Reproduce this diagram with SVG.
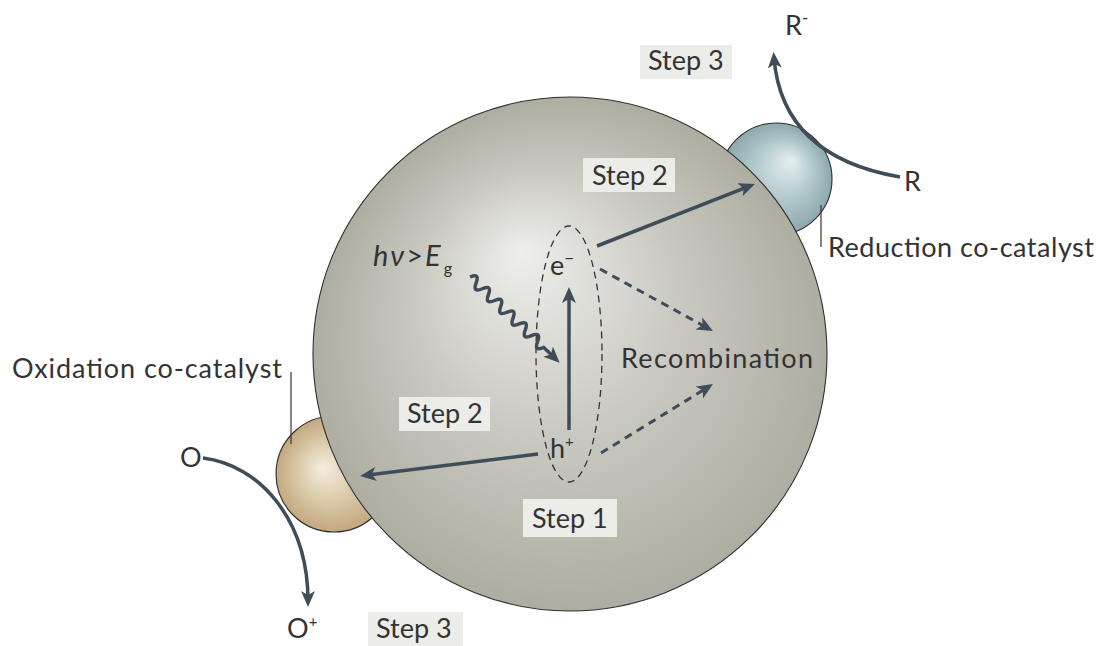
<svg xmlns="http://www.w3.org/2000/svg" width="1108" height="646" viewBox="0 0 1108 646">
  <defs>
    <radialGradient id="gMain" gradientUnits="userSpaceOnUse" cx="570" cy="354" r="257" fx="520" fy="250">
      <stop offset="0" stop-color="#eeeeeb"/>
      <stop offset="0.5" stop-color="#cbcac2"/>
      <stop offset="1" stop-color="#aeada1"/>
    </radialGradient>
    <radialGradient id="gRed" gradientUnits="userSpaceOnUse" cx="776" cy="179" r="56" fx="792" fy="160">
      <stop offset="0" stop-color="#e6eff0"/>
      <stop offset="0.5" stop-color="#b4cacd"/>
      <stop offset="1" stop-color="#8ca9ae"/>
    </radialGradient>
    <radialGradient id="gOx" gradientUnits="userSpaceOnUse" cx="334" cy="474" r="58" fx="322" fy="468">
      <stop offset="0" stop-color="#f4eee0"/>
      <stop offset="0.5" stop-color="#dccbab"/>
      <stop offset="1" stop-color="#c2a87f"/>
    </radialGradient>
    <marker id="head" markerUnits="userSpaceOnUse" markerWidth="18" markerHeight="16" refX="10" refY="7" orient="auto">
      <path d="M0,0 L16,7 L0,14 L4,7 z" fill="#3e4d58"/>
    </marker>
    <style>
      .sphere { stroke: #2e2e2e; stroke-width: 1.1; }
      .lbl { font-family: Lato, "Open Sans", sans-serif; font-size: 27px; fill: #333333; }
      .box { fill: #ecece8; }
      .arrow { fill: none; stroke: #3e4d58; stroke-width: 3.5; marker-end: url(#head); }
      .dash { fill: none; stroke: #3e4d58; stroke-width: 3; stroke-dasharray: 8 6; marker-end: url(#head); }
      .lead { stroke: #333333; stroke-width: 1.2; }
    </style>
  </defs>

  <rect width="1108" height="646" fill="#ffffff"/>

  <!-- co-catalyst particles sit behind the semiconductor -->
  <g id="reduction-cocatalyst">
    <circle class="sphere" cx="776" cy="179" r="56" fill="url(#gRed)"/>
  </g>
  <g id="oxidation-cocatalyst">
    <circle class="sphere" cx="334" cy="474" r="58" fill="url(#gOx)"/>
  </g>

  <g id="semiconductor">
    <circle class="sphere" cx="570" cy="354" r="257" fill="url(#gMain)"/>
  </g>

  <!-- electron-hole pair -->
  <g id="pair">
    <ellipse cx="569" cy="354" rx="33" ry="128" fill="none" stroke="#333333" stroke-width="1.3" stroke-dasharray="7 5"/>
    <text class="lbl" x="550" y="275">e<tspan font-size="17" dy="-11">−</tspan></text>
    <text class="lbl" x="550" y="458">h<tspan font-size="15" dy="-11">+</tspan></text>
  </g>

  <g id="photon-label">
    <text class="lbl" x="373" y="266" style="font-size:29px; letter-spacing:2px"><tspan font-style="italic">hν</tspan>&gt;<tspan font-style="italic">E</tspan><tspan font-size="16" dx="1" dy="8">g</tspan></text>
  </g>

  <g id="recombination">
    <text class="lbl" x="621" y="368" textLength="192" lengthAdjust="spacing">Recombination</text>
  </g>

  <g id="step-labels">
    <rect class="box" x="583" y="158" width="92" height="34"/>
    <text class="lbl" x="592" y="185">Step 2</text>
    <rect class="box" x="399" y="397" width="91" height="34"/>
    <text class="lbl" x="407" y="423">Step 2</text>
    <rect class="box" x="523" y="499" width="94" height="38"/>
    <text class="lbl" x="532" y="528">Step 1</text>
    <rect class="box" x="640" y="45" width="92" height="34"/>
    <text class="lbl" x="648" y="70">Step 3</text>
    <rect class="box" x="368" y="612" width="95" height="34"/>
    <text class="lbl" x="376" y="638">Step 3</text>
  </g>

  <g id="reduction-label">
    <line class="lead" x1="821" y1="205" x2="821" y2="247"/>
    <text class="lbl" x="828" y="257" textLength="266" lengthAdjust="spacing">Reduction co-catalyst</text>
  </g>
  <g id="oxidation-label">
    <line class="lead" x1="291" y1="372" x2="291" y2="444"/>
    <text class="lbl" x="12" y="378" textLength="270" lengthAdjust="spacing">Oxidation co-catalyst</text>
  </g>

  <g id="species">
    <text class="lbl" x="904" y="191">R</text>
    <text class="lbl" x="785" y="35">R<tspan font-size="17" dy="-11">-</tspan></text>
    <text class="lbl" x="180" y="467">O</text>
    <text class="lbl" x="287" y="638">O<tspan font-size="15" dy="-11">+</tspan></text>
  </g>

  <g id="connectors">
    <!-- photon -->
    <path class="arrow" stroke-width="2.6" transform="translate(470,277) rotate(43.7)" d="M0,0 q4.25,-10 8.5,0 t8.5,0 t8.5,0 t8.5,0 t8.5,0 t8.5,0 t8.5,0 t8.5,0 t8.5,0 t8.5,0 t8.5,0 t8.5,0 L118,0"/>
    <!-- excitation -->
    <line class="arrow" x1="569" y1="430" x2="569" y2="293"/>
    <!-- charge migration -->
    <line class="arrow" x1="597" y1="246" x2="749.4" y2="186.2"/>
    <line class="arrow" x1="538" y1="454" x2="366" y2="475.3"/>
    <!-- recombination paths -->
    <line class="dash" x1="600" y1="269" x2="707.7" y2="328.1"/>
    <line class="dash" x1="601" y1="453" x2="707.9" y2="387.2"/>
    <!-- surface reactions -->
    <path class="arrow" d="M900,177 C830,165 780,130 774,58"/>
    <path class="arrow" d="M203,458 C260,465 308,520 308,601"/>
  </g>
</svg>
